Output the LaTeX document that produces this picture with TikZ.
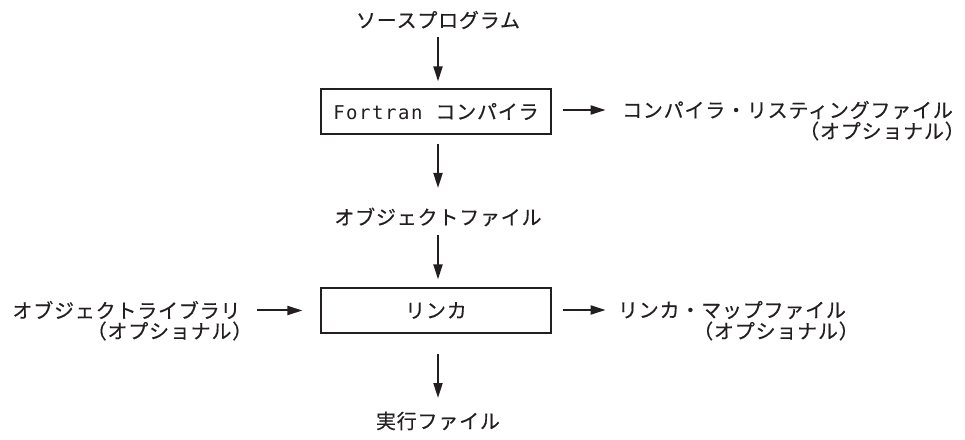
\documentclass[tikz,border=0pt]{standalone}
\usepackage{fontspec}
\usetikzlibrary{arrows.meta,calc}
\newfontfamily\jp{Noto Sans CJK JP}[LetterSpace=4,FakeBold=0.4]
\newfontfamily\monofnt{DejaVu Sans Mono}[LetterSpace=8]
\definecolor{ink}{HTML}{231F20}
\begin{document}
\begin{tikzpicture}[x=1pt,y=1pt,
  lbl/.style={font=\jp\fontsize{20}{22}\selectfont, inner sep=0pt, text=ink},
  box/.style={draw=ink, line width=1.2pt, minimum width=230pt, minimum height=45pt, inner sep=0pt},
  arr/.style={draw=ink, line width=2pt, -{Triangle[length=15pt,width=9pt]}}]
\useasboundingbox (0,0) rectangle (965,439);

\node[lbl] (src) at (438,419) {ソースプログラム};
\node[box, lbl] (box1) at (436,327.5) {\monofnt\fontsize{19}{22}\selectfont Fortran\hspace{13pt}\jp\fontsize{20}{22}\selectfont コンパイラ};
\node[lbl] (obj) at (438,222) {オブジェクトファイル};
\node[box, lbl] (box2) at (436,128.5) {リンカ};
\node[lbl] (exe) at (438,18) {実行ファイル};

\node[lbl] (list1) at (787.5,329) {コンパイラ・リスティングファイル};
\node[lbl] (list2) at (882,308) {（オプショナル）};
\node[lbl] (map1) at (732,129) {リンカ・マップファイル};
\node[lbl] (map2) at (776,108) {（オプショナル）};
\node[lbl] (lib1) at (126.5,129) {オブジェクトライブラリ};
\node[lbl] (lib2) at (169.5,108) {（オプショナル）};

\draw[arr] ($(src.center)+(0,-17)$) -- ($(src.center |- box1.north)+(0,7)$);
\draw[arr] ($(obj.center |- box1.south)+(0,-9)$) -- ($(obj.center)+(0,29)$);
\draw[arr] ($(obj.center)+(0,-18)$) -- ($(obj.center |- box2.north)+(0,8)$);
\draw[arr] ($(exe.center |- box2.south)+(0,-20)$) -- ($(exe.center)+(0,23)$);

\draw[arr] ($(box1.east |- list1.center)+(11,0)$) -- ($(box1.east |- list1.center)+(54,0)$);
\draw[arr] ($(box2.east |- map1.center)+(11,0)$) -- ($(box2.east |- map1.center)+(54,0)$);
\draw[arr] ($(box2.west)+(-63,0)$) -- ($(box2.west)+(-18,0)$);
\end{tikzpicture}
\end{document}
